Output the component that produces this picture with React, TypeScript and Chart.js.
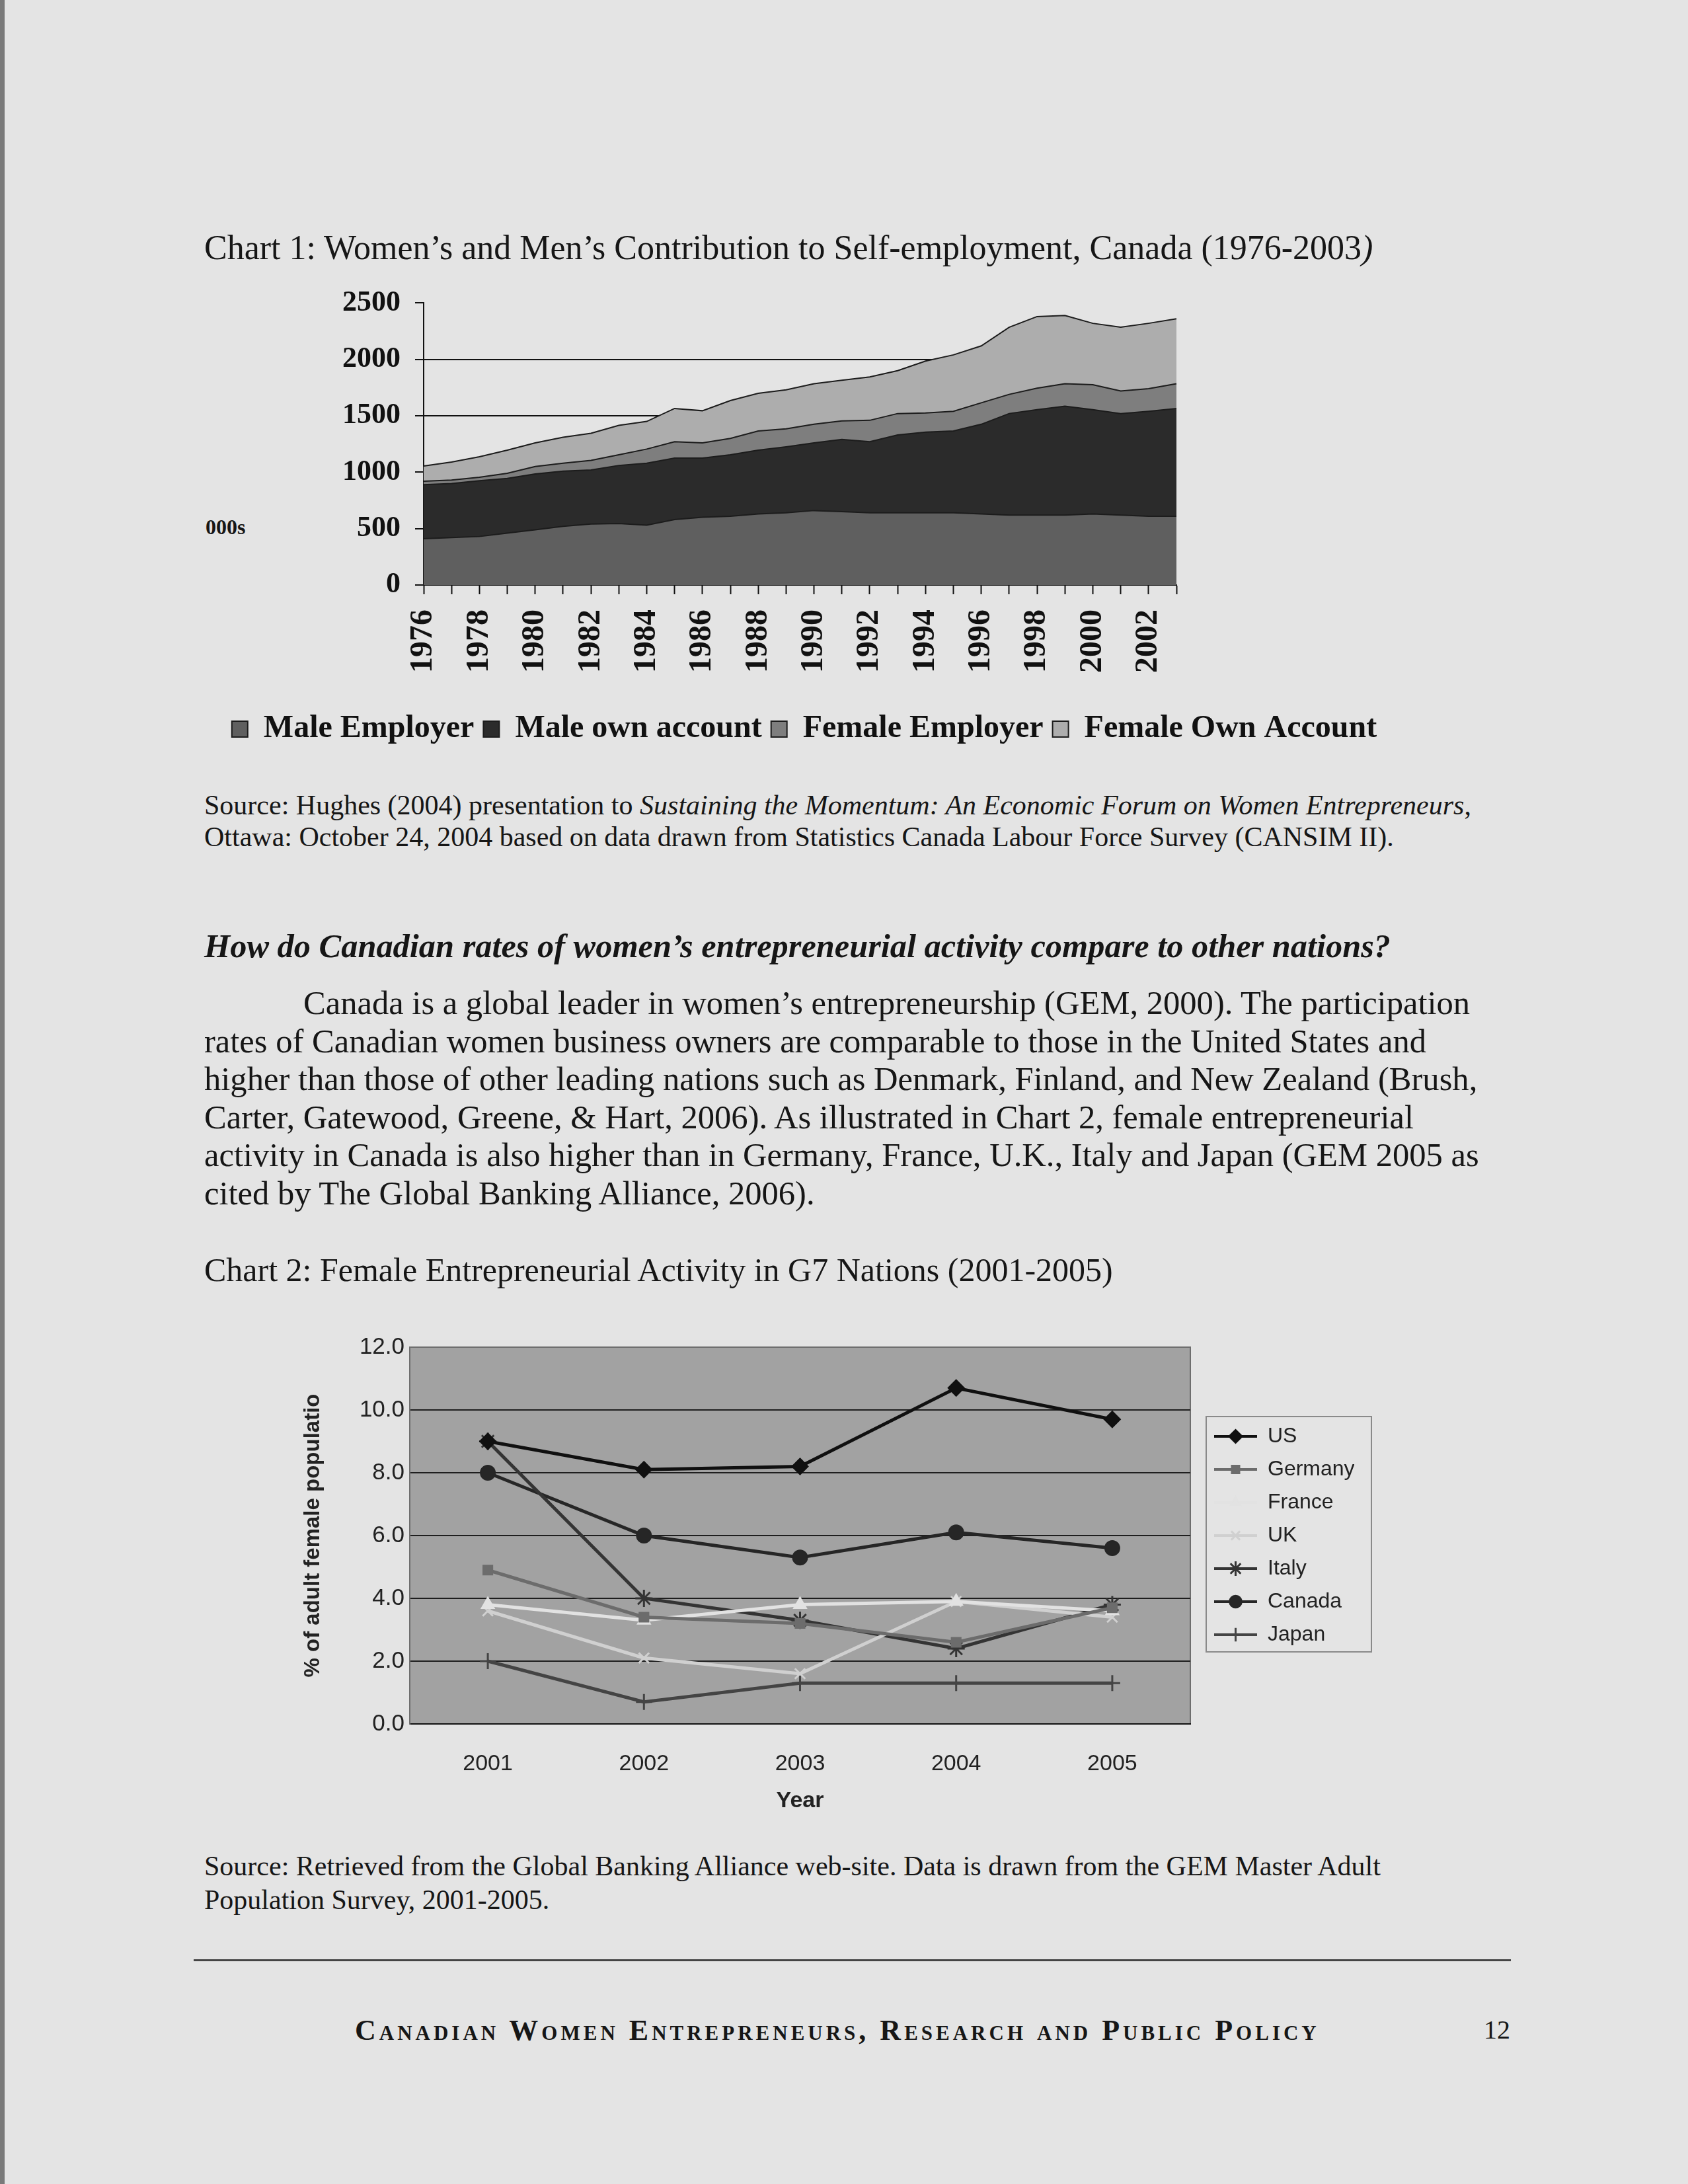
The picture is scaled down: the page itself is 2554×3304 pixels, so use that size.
import React, { useEffect, useRef } from "react";
import { Chart, registerables } from "chart.js";
import { drawPoint } from "chart.js/helpers";

Chart.register(...registerables);

// ---------- Chart 1 data (thousands) ----------
const years = [
  "1976", "1977", "1978", "1979", "1980", "1981", "1982", "1983", "1984", "1985",
  "1986", "1987", "1988", "1989", "1990", "1991", "1992", "1993", "1994", "1995",
  "1996", "1997", "1998", "1999", "2000", "2001", "2002", "2003",
];
const maleEmployer = [410, 420, 430, 460, 490, 520, 540, 545, 530, 580, 600, 610, 630, 640, 660, 650, 640, 640, 640, 640, 630, 620, 620, 620, 630, 620, 610, 610];
const maleOwnAccount = [480, 480, 495, 485, 495, 490, 480, 515, 550, 545, 525, 545, 565, 585, 600, 640, 630, 690, 715, 725, 795, 900, 935, 965, 925, 900, 930, 955];
const femaleEmployer = [30, 30, 30, 45, 65, 70, 85, 95, 125, 145, 135, 145, 170, 160, 165, 165, 190, 190, 170, 175, 190, 170, 190, 200, 220, 200, 200, 220];
const femaleOwnAccount = [135, 160, 182, 205, 210, 230, 240, 260, 245, 295, 285, 335, 335, 345, 360, 360, 385, 380, 460, 500, 505, 595, 635, 605, 545, 565, 580, 575];
const series1Names = ["Male Employer", "Male own account", "Female Employer", "Female Own Account"];

// ---------- Chart 2 data (% of adult female population) ----------
const years2 = ["2001", "2002", "2003", "2004", "2005"];
const countries = ["US", "Germany", "France", "UK", "Italy", "Canada", "Japan"];
const usRate = [9.0, 8.1, 8.2, 10.7, 9.7];
const germanyRate = [4.9, 3.4, 3.2, 2.6, 3.7];
const franceRate = [3.8, 3.3, 3.8, 3.9, 3.6];
const ukRate = [3.6, 2.1, 1.6, 3.9, 3.4];
const italyRate = [9.0, 4.0, 3.3, 2.4, 3.8];
const canadaRate = [8.0, 6.0, 5.3, 6.1, 5.6];
const japanRate = [2.0, 0.7, 1.3, 1.3, 1.3];

const SERIF = '"Liberation Serif", "Times New Roman", serif';
const SANS = '"Liberation Sans", Arial, sans-serif';

const fills1 = ["#5f5f5f", "#2b2b2b", "#7e7e7e", "#adadad"];

const style2 = [
  { color: "#101010", point: "rectRot", radius: 12, bw: 2 },
  { color: "#6c6c6c", point: "rect", radius: 10, bw: 2 },
  { color: "#e2e2e2", point: "triangle", radius: 11, bw: 2 },
  { color: "#d0d0d0", point: "crossRot", radius: 11, bw: 3 },
  { color: "#343434", point: "star", radius: 13, bw: 3 },
  { color: "#262626", point: "circle", radius: 11, bw: 2 },
  { color: "#444444", point: "cross", radius: 12, bw: 3 },
];

function makeIcon(color: string, point: string, radius: number, bw: number) {
  const cv = document.createElement("canvas");
  cv.width = 65;
  cv.height = 32;
  const ctx = cv.getContext("2d")!;
  ctx.strokeStyle = color;
  ctx.lineWidth = 4;
  ctx.beginPath();
  ctx.moveTo(0, 16);
  ctx.lineTo(65, 16);
  ctx.stroke();
  ctx.fillStyle = color;
  ctx.strokeStyle = color;
  ctx.lineWidth = bw;
  drawPoint(ctx, { pointStyle: point, radius: radius * 0.85, rotation: 0, borderWidth: bw } as any, 32.5, 16);
  return cv;
}

function buildChart1(canvas: HTMLCanvasElement) {
  const series = [maleEmployer, maleOwnAccount, femaleEmployer, femaleOwnAccount];
  return new Chart(canvas, {
    type: "line",
    data: {
      labels: years,
      datasets: series.map((d, i) => ({
        label: series1Names[i],
        data: d,
        fill: i === 0 ? "origin" : "-1",
        backgroundColor: fills1[i],
        borderColor: "#1c1c1c",
        borderWidth: 2,
        pointRadius: 0,
        tension: 0,
        yAxisID: "y",
      })),
    },
    options: {
      animation: false,
      responsive: false,
      events: [],
      layout: { padding: { top: 37, left: 0, right: 0, bottom: 0 } },
      plugins: {
        legend: {
          position: "bottom",
          labels: {
            boxWidth: 24,
            boxHeight: 24,
            padding: 14,
            color: "#111",
            font: { family: SERIF, size: 48, weight: "bold" },
          },
        },
        tooltip: { enabled: false },
      },
      scales: {
        x: {
          type: "category",
          offset: false,
          grid: { display: true, drawOnChartArea: false, drawTicks: true, tickLength: 14, tickColor: "#111", tickWidth: 2, color: "#111" },
          border: { display: true, color: "#111", width: 2 },
          ticks: {
            autoSkip: false,
            maxRotation: 90,
            minRotation: 90,
            padding: 23,
            color: "#111",
            font: { family: SERIF, size: 48, weight: "bold" },
            callback: (_v: any, idx: number) => (idx % 2 === 0 ? years[idx] : ""),
          },
          afterFit: (s: any) => { s.height = 180; },
        },
        y: {
          stacked: true,
          min: 0,
          max: 2500,
          ticks: {
            stepSize: 500,
            padding: 22,
            color: "#111",
            font: { family: SERIF, size: 44, weight: "bold" },
            callback: (v: any) => String(v),
          },
          grid: {
            drawTicks: true,
            tickLength: 13,
            tickColor: "#111",
            tickWidth: 2,
            lineWidth: 2,
            color: (c: any) => (c.tick && (c.tick.value === 2500 || c.tick.value === 0) ? "rgba(0,0,0,0)" : "#111"),
          },
          border: { display: true, color: "#111", width: 2 },
          afterFit: (s: any) => { s.width = 391; },
        },
        yR: {
          position: "right",
          display: true,
          grid: { display: false, drawTicks: false },
          border: { display: false },
          ticks: { display: false },
          afterFit: (s: any) => { s.width = 404; },
        },
      },
    } as any,
  });
}

function buildChart2(canvas: HTMLCanvasElement) {
  const series = [usRate, germanyRate, franceRate, ukRate, italyRate, canadaRate, japanRate];
  const icons = style2.map((s) => makeIcon(s.color, s.point, s.radius, s.bw));
  const plotBg = {
    id: "plotBg",
    beforeDraw(chart: any) {
      const { ctx, chartArea: a } = chart;
      ctx.save();
      ctx.fillStyle = "#a2a2a2";
      ctx.fillRect(a.left, a.top, a.right - a.left, a.bottom - a.top);
      ctx.strokeStyle = "#6e6e6e";
      ctx.lineWidth = 2;
      ctx.strokeRect(a.left, a.top, a.right - a.left, a.bottom - a.top);
      ctx.restore();
    },
    afterDraw(chart: any) {
      const lg = chart.legend;
      if (!lg || !lg.legendHitBoxes || !lg.legendHitBoxes.length) return;
      const hb = lg.legendHitBoxes;
      const first = hb[0];
      const last = hb[hb.length - 1];
      const { ctx } = chart;
      ctx.save();
      ctx.strokeStyle = "#8a8a8a";
      ctx.lineWidth = 2;
      const left = first.left - 12;
      const top = first.top - 14;
      ctx.strokeRect(left, top, 250, last.top + last.height + 10 - top);
      ctx.restore();
    },
  };
  return new Chart(canvas, {
    type: "line",
    data: {
      labels: years2,
      datasets: series.map((d, i) => ({
        label: countries[i],
        data: d,
        borderColor: style2[i].color,
        backgroundColor: style2[i].color,
        pointStyle: style2[i].point,
        pointRadius: style2[i].radius,
        pointBorderWidth: style2[i].bw,
        pointBackgroundColor: style2[i].color,
        pointBorderColor: style2[i].color,
        borderWidth: 5,
        tension: 0,
        fill: false,
        yAxisID: "y",
      })),
    },
    options: {
      animation: false,
      responsive: false,
      events: [],
      layout: { padding: { top: 48, left: 0, right: 32, bottom: 0 } },
      plugins: {
        legend: {
          position: "right",
          fullSize: false,
          maxWidth: 230,
          labels: {
            usePointStyle: true,
            pointStyleWidth: 65,
            padding: 18,
            color: "#222",
            font: { family: SANS, size: 32 },
            generateLabels: (chart: any) =>
              chart.data.datasets.map((ds: any, i: number) => ({
                text: ds.label,
                pointStyle: icons[i],
                fillStyle: "rgba(0,0,0,0)",
                strokeStyle: "rgba(0,0,0,0)",
                lineWidth: 0,
                hidden: false,
                datasetIndex: i,
                fontColor: "#222",
              })),
          },
        },
        tooltip: { enabled: false },
      },
      scales: {
        x: {
          type: "category",
          offset: true,
          grid: { display: true, drawOnChartArea: false, drawTicks: false },
          border: { display: true, color: "#111", width: 2 },
          ticks: { padding: 40, color: "#222", font: { family: SANS, size: 34 } },
          title: { display: true, text: "Year", color: "#222", font: { family: SANS, size: 34, weight: "bold" }, padding: { top: 0, bottom: 4 } },
          afterFit: (s: any) => { s.height = 141; },
        },
        y: {
          min: 0,
          max: 12,
          ticks: { stepSize: 2, padding: 8, color: "#222", font: { family: SANS, size: 35 }, callback: (v: any) => Number(v).toFixed(1) },
          grid: {
            drawTicks: false,
            lineWidth: 2,
            color: (c: any) => (c.tick && c.tick.value === 0 ? "rgba(0,0,0,0)" : c.tick && c.tick.value === 12 ? "#6e6e6e" : "#1e1e1e"),
          },
          border: { display: true, color: "#6e6e6e", width: 2 },
          title: { display: true, text: "% of adult female populatio", color: "#222", font: { family: SANS, size: 33, weight: "bold" }, padding: 0 },
          afterFit: (s: any) => { s.width = 166; },
        },
        yR: {
          position: "right",
          display: true,
          grid: { display: false, drawTicks: false },
          border: { display: false },
          ticks: { display: false },
          afterFit: (s: any) => { s.width = 18; },
        },
      },
    } as any,
    plugins: [plotBg],
  });
}

const abs = (top: number, left: number, size: number, extra: any = {}) => ({
  position: "absolute" as const,
  top,
  left,
  fontSize: size,
  lineHeight: `${Math.round(size * 1.15)}px`,
  whiteSpace: "nowrap" as const,
  ...extra,
});

const bodyLines = [
  "Canada is a global leader in women\u2019s entrepreneurship (GEM, 2000). The participation",
  "rates of Canadian women business owners are comparable to those in the United States and",
  "higher than those of other leading nations such as Denmark, Finland, and New Zealand (Brush,",
  "Carter, Gatewood, Greene, & Hart, 2006). As illustrated in Chart 2, female entrepreneurial",
  "activity in Canada is also higher than in Germany, France, U.K., Italy and Japan (GEM 2005 as",
  "cited by The Global Banking Alliance, 2006).",
];

const LM = 309;

export default function App() {
  const c1 = useRef<HTMLCanvasElement>(null);
  const c2 = useRef<HTMLCanvasElement>(null);

  useEffect(() => {
    const ch1 = buildChart1(c1.current!);
    const ch2 = buildChart2(c2.current!);
    return () => {
      ch1.destroy();
      ch2.destroy();
    };
  }, []);

  const C1 = { left: 250, top: 410, width: 1934, height: 727 };
  const C2 = { left: 454, top: 1990, width: 1627, height: 759 };

  return (
    <div
      style={{
        position: "absolute",
        left: 0,
        top: 0,
        width: 2554,
        height: 3304,
        overflow: "hidden",
        background: "#e4e4e4",
        fontFamily: SERIF,
        color: "#161616",
      }}
    >
      <div style={{ position: "absolute", left: 0, top: 0, width: 7, height: 3304, background: "#7a7a7a" }} />

      <div style={abs(345, LM, 52)}>
        Chart 1: Women{"\u2019"}s and Men{"\u2019"}s Contribution to Self-employment, Canada (1976-2003<i>)</i>
      </div>

      <div style={abs(779, 311, 32, { fontWeight: "bold" })}>000s</div>

      <canvas
        ref={c1}
        width={C1.width}
        height={C1.height}
        style={{ position: "absolute", left: C1.left, top: C1.top, width: C1.width, height: C1.height }}
      />

      <div style={abs(1194, LM, 42)}>
        Source: Hughes (2004) presentation to <i>Sustaining the Momentum: An Economic Forum on Women Entrepreneurs</i>,
      </div>
      <div style={abs(1242, LM, 42)}>
        Ottawa: October 24, 2004 based on data drawn from Statistics Canada Labour Force Survey (CANSIM II).
      </div>

      <div style={abs(1402, LM, 50.4, { fontWeight: "bold", fontStyle: "italic" })}>
        How do Canadian rates of women{"\u2019"}s entrepreneurial activity compare to other nations?
      </div>

      {bodyLines.map((t, i) => (
        <div key={i} style={abs(Math.round(1488 + 57.5 * i), i === 0 ? LM + 150 : LM, 50.6)}>
          {t}
        </div>
      ))}

      <div style={abs(1893, LM, 50)}>Chart 2: Female Entrepreneurial Activity in G7 Nations (2001-2005)</div>

      <canvas
        ref={c2}
        width={C2.width}
        height={C2.height}
        style={{ position: "absolute", left: C2.left, top: C2.top, width: C2.width, height: C2.height }}
      />

      <div style={abs(2799, LM, 42)}>
        Source: Retrieved from the Global Banking Alliance web-site. Data is drawn from the GEM Master Adult
      </div>
      <div style={abs(2850, LM, 42)}>Population Survey, 2001-2005.</div>

      <div style={{ position: "absolute", left: 293, top: 2964, width: 1993, height: 3, background: "#444" }} />

      <div style={abs(3046, 537, 44, { fontVariant: "small-caps", fontWeight: "bold", letterSpacing: "5px" })}>
        Canadian Women Entrepreneurs, Research and Public Policy
      </div>
      <div style={abs(3048, 2245, 40)}>12</div>
    </div>
  );
}
